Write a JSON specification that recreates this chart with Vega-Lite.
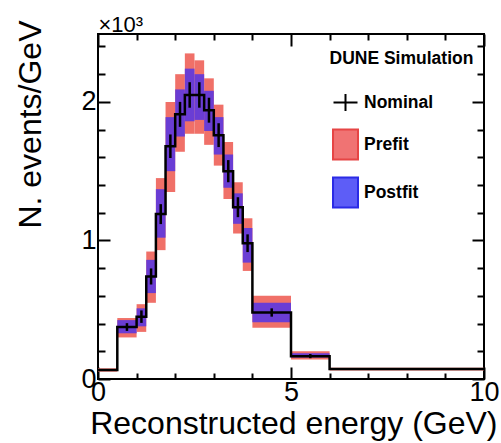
{
  "$schema": "https://vega.github.io/schema/vega-lite/v6.json",
  "width": 386,
  "height": 345,
  "autosize": "none",
  "padding": {"left": 98, "top": 34, "right": 17, "bottom": 64},
  "config": {
    "font": "Liberation Sans",
    "view": {"stroke": "black", "strokeWidth": 2},
    "axis": {"domain": false, "grid": false, "ticks": true, "tickColor": "black", "tickWidth": 2, "labelColor": "black", "titleColor": "black", "labelFont": "Liberation Sans", "titleFont": "Liberation Sans", "titleFontWeight": "normal"}
  },
  "data": {"values": [
    {"lo": 0, "hi": 0.5, "mid": 0.25, "nom": 0.065, "eLo": 0.058, "eHi": 0.072, "preLo": 0.053, "preHi": 0.077, "postLo": 0.058, "postHi": 0.072},
    {"lo": 0.5, "hi": 1, "mid": 0.75, "nom": 0.375, "eLo": 0.347, "eHi": 0.403, "preLo": 0.30, "preHi": 0.44, "postLo": 0.33, "postHi": 0.425},
    {"lo": 1, "hi": 1.25, "mid": 1.125, "nom": 0.45, "eLo": 0.405, "eHi": 0.495, "preLo": 0.34, "preHi": 0.54, "postLo": 0.38, "postHi": 0.51},
    {"lo": 1.25, "hi": 1.5, "mid": 1.375, "nom": 0.74, "eLo": 0.682, "eHi": 0.798, "preLo": 0.55, "preHi": 0.92, "postLo": 0.62, "postHi": 0.86},
    {"lo": 1.5, "hi": 1.75, "mid": 1.625, "nom": 1.19, "eLo": 1.118, "eHi": 1.262, "preLo": 0.93, "preHi": 1.45, "postLo": 1.02, "postHi": 1.37},
    {"lo": 1.75, "hi": 2, "mid": 1.875, "nom": 1.68, "eLo": 1.595, "eHi": 1.765, "preLo": 1.35, "preHi": 2.00, "postLo": 1.50, "postHi": 1.89},
    {"lo": 2, "hi": 2.25, "mid": 2.125, "nom": 1.91, "eLo": 1.82, "eHi": 2.00, "preLo": 1.64, "preHi": 2.20, "postLo": 1.75, "postHi": 2.09},
    {"lo": 2.25, "hi": 2.5, "mid": 2.375, "nom": 2.05, "eLo": 1.958, "eHi": 2.142, "preLo": 1.77, "preHi": 2.35, "postLo": 1.86, "postHi": 2.24},
    {"lo": 2.5, "hi": 2.75, "mid": 2.625, "nom": 2.05, "eLo": 1.958, "eHi": 2.142, "preLo": 1.77, "preHi": 2.30, "postLo": 1.87, "postHi": 2.20},
    {"lo": 2.75, "hi": 3, "mid": 2.875, "nom": 1.94, "eLo": 1.85, "eHi": 2.03, "preLo": 1.69, "preHi": 2.17, "postLo": 1.79, "postHi": 2.08},
    {"lo": 3, "hi": 3.25, "mid": 3.125, "nom": 1.76, "eLo": 1.674, "eHi": 1.846, "preLo": 1.54, "preHi": 1.98, "postLo": 1.62, "postHi": 1.89},
    {"lo": 3.25, "hi": 3.5, "mid": 3.375, "nom": 1.50, "eLo": 1.42, "eHi": 1.58, "preLo": 1.30, "preHi": 1.71, "postLo": 1.38, "postHi": 1.62},
    {"lo": 3.5, "hi": 3.75, "mid": 3.625, "nom": 1.24, "eLo": 1.168, "eHi": 1.312, "preLo": 1.05, "preHi": 1.42, "postLo": 1.12, "postHi": 1.34},
    {"lo": 3.75, "hi": 4, "mid": 3.875, "nom": 0.98, "eLo": 0.916, "eHi": 1.044, "preLo": 0.78, "preHi": 1.16, "postLo": 0.84, "postHi": 1.09},
    {"lo": 4, "hi": 5, "mid": 4.5, "nom": 0.48, "eLo": 0.45, "eHi": 0.51, "preLo": 0.37, "preHi": 0.60, "postLo": 0.41, "postHi": 0.55},
    {"lo": 5, "hi": 6, "mid": 5.5, "nom": 0.165, "eLo": 0.15, "eHi": 0.18, "preLo": 0.14, "preHi": 0.20, "postLo": 0.155, "postHi": 0.185},
    {"lo": 6, "hi": 10, "mid": 8, "nom": 0.072, "eLo": 0.067, "eHi": 0.077, "preLo": 0.062, "preHi": 0.082, "postLo": 0.066, "postHi": 0.078},
    {"lo": 10, "nom": 0.072}
  ]},
  "resolve": {"axis": {"x": "independent", "y": "independent"}},
  "layer": [
    {
      "transform": [{"filter": "datum.hi != null"}],
      "mark": {"type": "rect", "color": "#f07068"},
      "encoding": {
        "x": {"field": "lo", "type": "quantitative", "scale": {"domain": [0, 10], "nice": false, "zero": false},
              "axis": {"orient": "bottom", "values": [0, 5, 10], "format": "d", "tickSize": -12, "labelPadding": 12, "labelFontSize": 27, "labelFlush": false, "labelOverlap": false, "labelBaseline": "top",
                       "title": "Reconstructed energy (GeV)", "titleFontSize": 32, "titleAlign": "right", "titleBaseline": "alphabetic", "titleX": 399, "titleY": 54, "titleAngle": 0}},
        "x2": {"field": "hi"},
        "y": {"field": "preLo", "type": "quantitative", "scale": {"domain": [0, 2.49], "nice": false, "zero": false},
              "axis": {"orient": "left", "values": [0, 1, 2], "format": "d", "tickSize": -12, "labelPadding": 14, "labelFontSize": 27, "labelFlush": false, "labelOverlap": false, "labelAlign": "right", "labelBaseline": "middle",
                       "title": "N. events/GeV", "titleFontSize": 32, "titleAngle": -90, "titleAlign": "right", "titleBaseline": "alphabetic", "titleX": -58, "titleY": -14}},
        "y2": {"field": "preHi"}
      }
    },
    {
      "transform": [{"filter": "datum.hi != null"}],
      "mark": {"type": "rect", "color": "#6a3dd4"},
      "encoding": {
        "x": {"field": "lo", "type": "quantitative", "scale": {"domain": [0, 10], "nice": false, "zero": false},
              "axis": {"orient": "bottom", "values": [1, 2, 3, 4, 6, 7, 8, 9], "tickSize": -6, "labels": false, "title": null}},
        "x2": {"field": "hi"},
        "y": {"field": "postLo", "type": "quantitative", "scale": {"domain": [0, 2.49], "nice": false, "zero": false},
              "axis": {"orient": "left", "values": [0.2, 0.4, 0.6, 0.8, 1.2, 1.4, 1.6, 1.8, 2.2, 2.4], "tickSize": -7, "labels": false, "title": null}},
        "y2": {"field": "postHi"}
      }
    },
    {
      "mark": {"type": "line", "interpolate": "step-after", "color": "black", "strokeWidth": 2.5},
      "encoding": {
        "x": {"field": "lo", "type": "quantitative", "scale": {"domain": [0, 10], "nice": false, "zero": false},
              "axis": {"orient": "top", "values": [0, 5, 10], "tickSize": -12, "labels": false,
                       "title": "×10³", "titleFontSize": 22, "titleAlign": "left", "titleBaseline": "alphabetic", "titleX": 0, "titleY": -3, "titleAngle": 0}},
        "y": {"field": "nom", "type": "quantitative", "scale": {"domain": [0, 2.49], "nice": false, "zero": false},
              "axis": {"orient": "right", "values": [0, 1, 2], "tickSize": -12, "labels": false, "title": null}}
      }
    },
    {
      "transform": [{"filter": "datum.hi != null"}],
      "mark": {"type": "rule", "color": "black", "strokeWidth": 2.5},
      "encoding": {
        "x": {"field": "mid", "type": "quantitative", "scale": {"domain": [0, 10], "nice": false, "zero": false},
              "axis": {"orient": "top", "values": [1, 2, 3, 4, 6, 7, 8, 9], "tickSize": -6, "labels": false, "title": null}},
        "y": {"field": "eLo", "type": "quantitative", "scale": {"domain": [0, 2.49], "nice": false, "zero": false},
              "axis": {"orient": "right", "values": [0.2, 0.4, 0.6, 0.8, 1.2, 1.4, 1.6, 1.8, 2.2, 2.4], "tickSize": -7, "labels": false, "title": null}},
        "y2": {"field": "eHi"}
      }
    },
    {
      "data": {"values": [{"series": "Nominal"}, {"series": "Prefit"}, {"series": "Postfit"}]},
      "transform": [{"filter": "false"}],
      "mark": {"type": "point"},
      "encoding": {
        "shape": {"field": "series", "type": "nominal",
                  "scale": {"domain": ["Nominal", "Prefit", "Postfit"], "range": ["M-0.8,0H0.8M0,-0.57V0.57", "M-0.833,-1H0.833V1H-0.833Z", "M-0.833,-1H0.833V1H-0.833Z"]},
                  "legend": {"title": "DUNE Simulation", "orient": "none", "legendX": 231.5, "legendY": 16, "padding": 0, "titleFontSize": 17.5, "titleFontWeight": "bold", "titleColor": "black", "titlePadding": 19, "labelFontSize": 17.5, "labelFontWeight": "bold", "labelColor": "black", "labelOffset": 2.5, "symbolSize": 900, "symbolStrokeWidth": 2, "rowPadding": 10, "symbolOpacity": 1}},
        "fill": {"field": "series", "type": "nominal",
                 "scale": {"domain": ["Nominal", "Prefit", "Postfit"], "range": ["transparent", "#f07373", "#5d5df7"]},
                 "legend": {"title": "DUNE Simulation", "orient": "none", "legendX": 231.5, "legendY": 16, "padding": 0, "titleFontSize": 17.5, "titleFontWeight": "bold", "titleColor": "black", "titlePadding": 19, "labelFontSize": 17.5, "labelFontWeight": "bold", "labelColor": "black", "labelOffset": 2.5, "symbolSize": 900, "symbolStrokeWidth": 2, "rowPadding": 10, "symbolOpacity": 1}},
        "stroke": {"field": "series", "type": "nominal",
                   "scale": {"domain": ["Nominal", "Prefit", "Postfit"], "range": ["black", "#e64545", "#2b2be6"]},
                   "legend": {"title": "DUNE Simulation", "orient": "none", "legendX": 231.5, "legendY": 16, "padding": 0, "titleFontSize": 17.5, "titleFontWeight": "bold", "titleColor": "black", "titlePadding": 19, "labelFontSize": 17.5, "labelFontWeight": "bold", "labelColor": "black", "labelOffset": 2.5, "symbolSize": 900, "symbolStrokeWidth": 2, "rowPadding": 10, "symbolOpacity": 1}}
      }
    }
  ]
}
